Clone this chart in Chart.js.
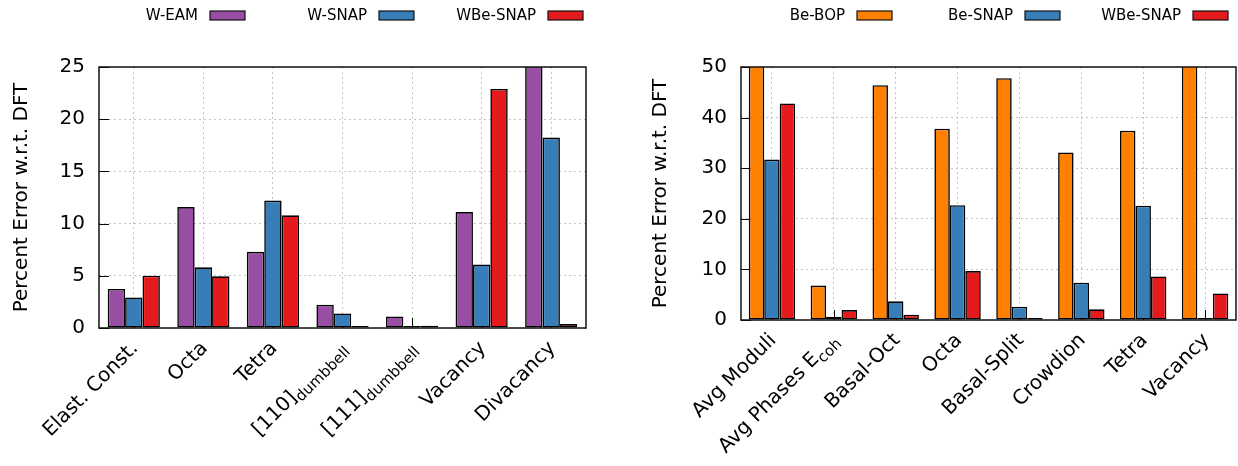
<!DOCTYPE html>
<html>
<head>
<meta charset="utf-8">
<script src="https://cdn.jsdelivr.net/npm/chart.js@4.4.1/dist/chart.umd.min.js"></script>
<style>
  body { margin: 0; background: #fff; width: 1238px; height: 466px; overflow: hidden; position: relative; }
  canvas { position: absolute; top: 0; }
  #wChart { left: 0; }
  #beChart { left: 620px; }
</style>
</head>
<body>
<canvas id="wChart" width="620" height="466"></canvas>
<canvas id="beChart" width="618" height="466"></canvas>
<script>
// W panel
const wCategories = ['Elast. Const.', 'Octa', 'Tetra', '[110]_{dumbbell}', '[111]_{dumbbell}', 'Vacancy', 'Divacancy'];
const wEam = [3.74, 11.58, 7.30, 2.22, 1.11, 11.10, 30];
const wSnap = [2.92, 5.81, 12.21, 1.40, 0.10, 6.09, 18.24];
const wWbeSnap = [5.01, 4.95, 10.79, 0.10, 0.22, 22.9, 0.38];
const wTicks = [0, 5, 10, 15, 20, 25];

// Be panel
const beCategories = ['Avg Moduli', 'Avg Phases E_{coh}', 'Basal-Oct', 'Octa', 'Basal-Split', 'Crowdion', 'Tetra', 'Vacancy'];
const beBop = [60, 6.8, 46.4, 37.8, 47.8, 33.1, 37.4, 60];
const beSnap = [31.7, 0.66, 3.7, 22.7, 2.63, 7.37, 22.6, 0.26];
const beWbeSnap = [42.8, 1.97, 1.05, 9.67, 0.26, 2.1, 8.6, 5.26];
const beTicks = [0, 10, 20, 30, 40, 50];

const FONT = 'DejaVu Sans';
const PURPLE = '#984ea3', BLUE = '#377eb8', RED = '#e41a1c', ORANGE = '#ff7f00';

// gnuplot-ish frame, inward tics, key and rotated labels with subscripts
const gnuplotLook = {
  id: 'gnuplotLook',
  beforeDatasetsDraw(chart) {
    const { ctx, chartArea: a, scales: { x, y } } = chart;
    ctx.save();
    ctx.strokeStyle = '#000';
    ctx.lineWidth = 1;
    ctx.beginPath();
    y.ticks.forEach(t => {
      const py = Math.round(y.getPixelForValue(t.value)) + 0.5;
      ctx.moveTo(a.left, py); ctx.lineTo(a.left + 10, py);
    });
    x.ticks.forEach((t, i) => {
      const px = Math.round(x.getPixelForTick(i)) + 0.5;
      ctx.moveTo(px, a.bottom); ctx.lineTo(px, a.bottom - 10);
    });
    ctx.stroke();
    ctx.restore();
  },
  afterDatasetsDraw(chart) {
    const { ctx, chartArea: a } = chart;
    ctx.save();
    ctx.strokeStyle = '#111';
    ctx.lineWidth = 1.5;
    ctx.strokeRect(a.left, a.top, a.right - a.left, a.bottom - a.top);
    ctx.restore();
  },
  afterDraw(chart, args, opts) {
    const { ctx, chartArea: a, scales: { x } } = chart;
    ctx.save();
    ctx.fillStyle = '#000';
    ctx.textBaseline = 'alphabetic';
    // x labels, rotated 45deg, right-justified at the tic
    chart.data.labels.forEach((lab, i) => {
      const m = lab.match(/^(.*?)_\{(.*)\}$/);
      const main = m ? m[1] : lab;
      const sub = m ? m[2] : '';
      ctx.font = `20px "${FONT}"`;
      const wMain = ctx.measureText(main).width;
      ctx.font = `15px "${FONT}"`;
      const wSub = sub ? ctx.measureText(sub).width : 0;
      const total = wMain + wSub;
      ctx.save();
      ctx.translate(x.getPixelForTick(i) + 5, a.bottom + 21);
      ctx.rotate(-Math.PI / 4);
      ctx.textAlign = 'left';
      ctx.font = `20px "${FONT}"`;
      ctx.fillText(main, -total, 0);
      if (sub) {
        ctx.font = `15px "${FONT}"`;
        ctx.fillText(sub, -wSub, 5);
      }
      ctx.restore();
    });
    // key: text then swatch
    ctx.font = `15px "${FONT}"`;
    ctx.textAlign = 'right';
    ctx.textBaseline = 'middle';
    chart.data.datasets.forEach((ds, i) => {
      const right = opts.keyX + i * opts.keyStep;
      ctx.fillStyle = ds.backgroundColor;
      ctx.fillRect(right - 35, 11, 35, 9);
      ctx.strokeStyle = '#111';
      ctx.lineWidth = 1.2;
      ctx.strokeRect(right - 35, 11, 35, 9);
      ctx.fillStyle = '#000';
      ctx.fillText(ds.label, right - 47, 16);
    });
    ctx.restore();
  }
};

function makeChart(id, labels, series, names, colors, ticks, opts) {
  return new Chart(document.getElementById(id), {
    type: 'bar',
    data: {
      labels: labels,
      datasets: series.map((s, i) => ({
        label: names[i],
        data: s,
        backgroundColor: colors[i],
        borderColor: '#000',
        borderWidth: 1.6,
        borderSkipped: false,
        minBarLength: 2,
        categoryPercentage: 0.75,
        barPercentage: 1.0
      }))
    },
    options: {
      responsive: false,
      animation: false,
      events: [],
      layout: { padding: { top: 67, right: opts.padRight, left: 0, bottom: 0 } },
      plugins: {
        legend: { display: false },
        tooltip: { enabled: false },
        gnuplotLook: { keyX: opts.keyX, keyStep: opts.keyStep }
      },
      scales: {
        x: {
          ticks: { display: false },
          grid: { offset: false, color: '#c4c4c4', lineWidth: 1, drawTicks: false },
          border: { display: false, dash: [2, 3] },
          afterFit: s => { s.height = opts.xHeight; }
        },
        y: {
          min: 0,
          max: ticks[ticks.length - 1],
          afterBuildTicks: s => { s.ticks = ticks.map(v => ({ value: v })); },
          ticks: { color: '#000', padding: 14, font: { family: FONT, size: 20 } },
          grid: { color: '#c4c4c4', lineWidth: 1, drawTicks: false },
          border: { display: false, dash: [2, 3] },
          title: {
            display: true,
            text: 'Percent Error w.r.t. DFT',
            color: '#000',
            font: { family: FONT, size: 20 },
            padding: { top: opts.titlePad, bottom: 0 }
          },
          afterFit: s => { s.width = opts.yWidth; }
        }
      }
    },
    plugins: [gnuplotLook]
  });
}

makeChart('wChart', wCategories, [wEam, wSnap, wWbeSnap], ['W-EAM', 'W-SNAP', 'WBe-SNAP'],
  [PURPLE, BLUE, RED], wTicks,
  { padRight: 34, yWidth: 99, xHeight: 138, titlePad: 10, keyX: 245, keyStep: 169 });

makeChart('beChart', beCategories, [beBop, beSnap, beWbeSnap], ['Be-BOP', 'Be-SNAP', 'WBe-SNAP'],
  [ORANGE, BLUE, RED], beTicks,
  { padRight: 2, yWidth: 121, xHeight: 146, titlePad: 29, keyX: 272, keyStep: 168 });
</script>
</body>
</html>
